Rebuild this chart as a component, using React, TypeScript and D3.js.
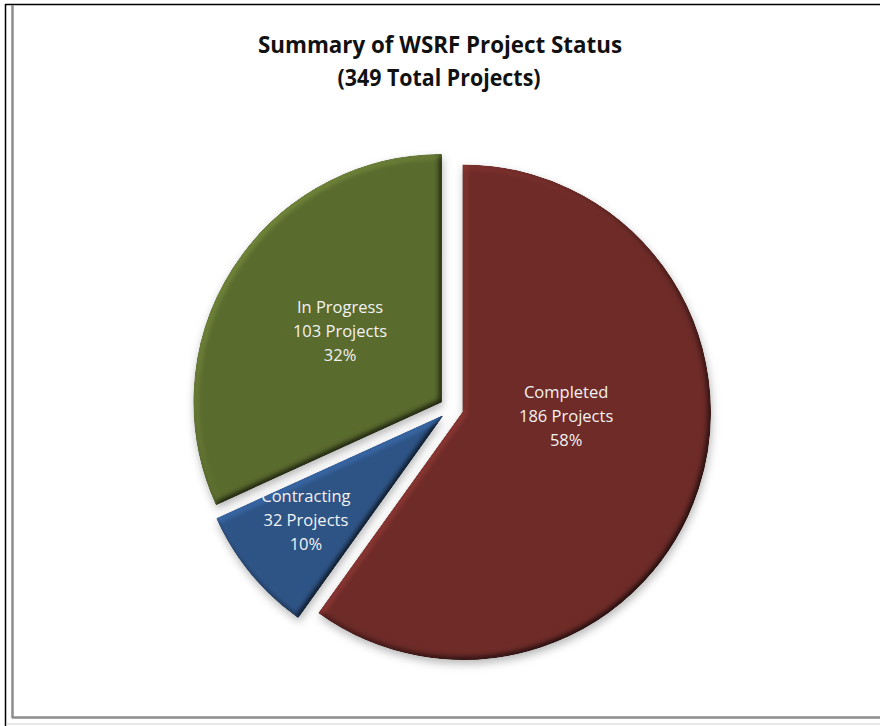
import React from "react";
import * as d3 from "d3";

// ---- data ----
const categories = ["Completed", "Contracting", "In Progress"];
const projectCounts = [186, 32, 103];
const percentLabels = ["58%", "10%", "32%"];
// slice sizes (percent of the circle)
const sliceShares = [59.9, 8.3, 31.8];
const titleLines = ["Summary of WSRF Project Status", "(349 Total Projects)"];

// ---- styles / layout ----
const colors = ["#6E2B28", "#2E5486", "#5A6B2E"];
const labelPlacement = [
  { frac: 0.417, dAngle: -15.7 },
  { frac: 0.692, dAngle: 2.2 },
  { frac: 0.5, dAngle: 2.3 },
];
const W = 880;
const H = 726;
const cx = 451.5;
const cy = 408.5;
const R = 247;
const explode = 12.3;

export default function App() {
  const pie = d3
    .pie<number>()
    .sort(null)
    .startAngle(0)
    .endAngle(2 * Math.PI)
    .value((d) => d);
  const arcs = pie(sliceShares);
  const arcGen = d3
    .arc<d3.PieArcDatum<number>>()
    .innerRadius(0)
    .outerRadius(R);

  return (
    <svg
      width={W}
      height={H}
      style={{ position: "absolute", left: 0, top: 0, background: "#fff" }}
    >
      <defs>
        <filter
          id="bevel"
          x="-15%"
          y="-15%"
          width="130%"
          height="135%"
          colorInterpolationFilters="sRGB"
        >
          <feGaussianBlur in="SourceAlpha" stdDeviation="3" result="blur" />
          <feDiffuseLighting
            in="blur"
            surfaceScale="3"
            diffuseConstant="1"
            lightingColor="#ffffff"
            result="diff"
          >
            <feDistantLight azimuth="225" elevation="55" />
          </feDiffuseLighting>
          <feComposite
            in="SourceGraphic"
            in2="diff"
            operator="arithmetic"
            k1="1.22"
            k2="0"
            k3="0"
            k4="0"
            result="shaded"
          />
          <feComposite in="shaded" in2="SourceAlpha" operator="in" result="shadedIn" />
          <feGaussianBlur in="SourceAlpha" stdDeviation="4" result="sblur" />
          <feOffset in="sblur" dx="1" dy="4" result="soff" />
          <feFlood floodColor="#000" floodOpacity="0.28" result="flood" />
          <feComposite in="flood" in2="soff" operator="in" result="shadow" />
          <feMerge>
            <feMergeNode in="shadow" />
            <feMergeNode in="shadedIn" />
          </feMerge>
        </filter>
      </defs>

      {/* frame */}
      <line x1={5.5} y1={4} x2={5.5} y2={H} stroke="#000" strokeWidth={1.5} />
      <line x1={5} y1={4.5} x2={W} y2={4.5} stroke="#000" strokeWidth={1.5} />
      <line x1={12.5} y1={5} x2={12.5} y2={718} stroke="#8c8c8c" strokeWidth={2.5} />
      <line x1={12} y1={717.5} x2={W} y2={717.5} stroke="#8c8c8c" strokeWidth={2.5} />
      <line x1={6} y1={724} x2={W} y2={724} stroke="#d0d0d0" strokeWidth={1} />

      {/* title */}
      <g
        fontFamily="'Open Sans', 'Noto Sans', sans-serif"
        fontWeight={700}
        fontSize={23}
        fill="#111"
        textAnchor="middle"
      >
        <text x={440} y={53} textLength={364} lengthAdjust="spacingAndGlyphs">
          {titleLines[0]}
        </text>
        <text x={439} y={86} textLength={203} lengthAdjust="spacingAndGlyphs">
          {titleLines[1]}
        </text>
      </g>

      {/* slices */}
      {arcs.map((a, i) => {
        const mid = (a.startAngle + a.endAngle) / 2;
        const ox = cx + Math.sin(mid) * explode;
        const oy = cy - Math.cos(mid) * explode;
        return (
          <g key={categories[i]} transform={`translate(${ox},${oy})`}>
            <path
              d={arcGen(a) || ""}
              fill={colors[i]}
              stroke={colors[i]}
              strokeWidth={1.5}
              strokeLinejoin="round"
              filter="url(#bevel)"
            />
          </g>
        );
      })}

      {/* labels */}
      {arcs.map((a, i) => {
        const mid = (a.startAngle + a.endAngle) / 2;
        const ox = cx + Math.sin(mid) * explode;
        const oy = cy - Math.cos(mid) * explode;
        const p = labelPlacement[i];
        const ang = mid + (p.dAngle * Math.PI) / 180;
        const lx = ox + Math.sin(ang) * R * p.frac;
        const ly = oy - Math.cos(ang) * R * p.frac;
        const lines = [
          categories[i],
          `${projectCounts[i]} Projects`,
          percentLabels[i],
        ];
        return (
          <g
            key={"l" + i}
            fontFamily="'Open Sans', 'Noto Sans', sans-serif"
            fontSize={16.5}
            fill="#f2f2f2"
            textAnchor="middle"
          >
            {lines.map((t, j) => (
              <text key={j} x={lx} y={ly + (j - 1) * 24 + 6}>
                {t}
              </text>
            ))}
          </g>
        );
      })}
    </svg>
  );
}
